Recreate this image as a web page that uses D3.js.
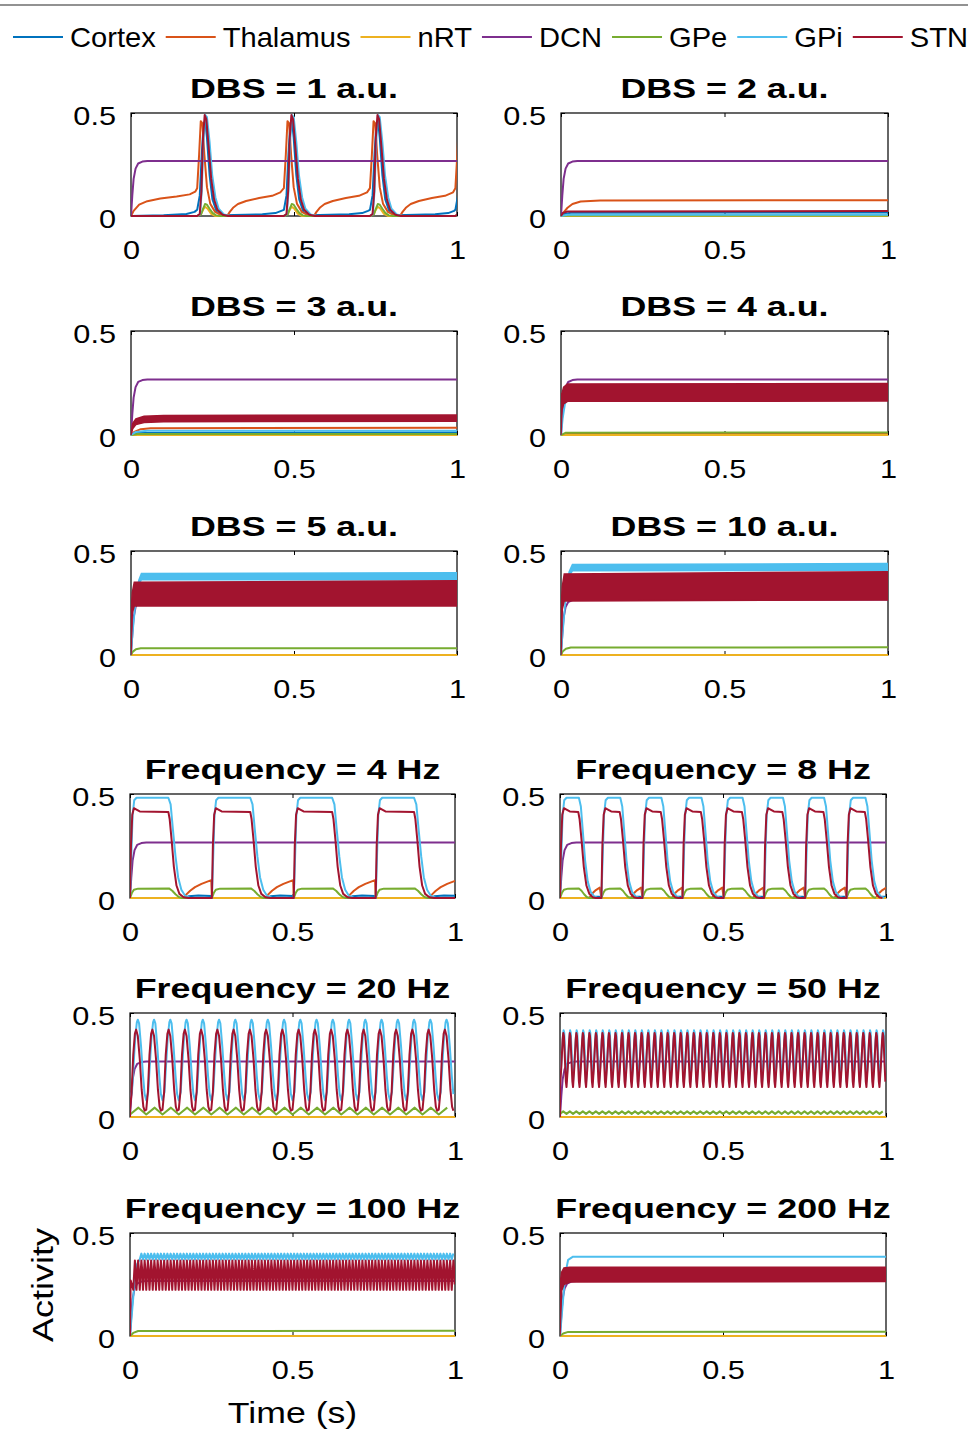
<!DOCTYPE html>
<html>
<head>
<meta charset="utf-8">
<script src="https://cdn.jsdelivr.net/npm/d3@7"></script>
<style>
  body { margin: 0; background: #fff; }
  svg text { font-family: "Liberation Sans", Arial, Helvetica, sans-serif; fill: #000; }
</style>
</head>
<body>
<svg id="fig" width="968" height="1436"></svg>
<script>
// ---- series and axes ----
const seriesNames = ["Cortex", "Thalamus", "nRT", "DCN", "GPe", "GPi", "STN"]
const seriesColors = ["#0072BD", "#D95319", "#EDB120", "#7E2F8E", "#77AC30", "#4DBEEE", "#A2142F"]
const xTicks = [0, 0.5, 1]
const xTickLabels = ["0", "0.5", "1"]
const yTicks = [0, 0.5]
const yTickLabels = ["0", "0.5"]

const panelTitles = [
  "DBS = 1 a.u.", "DBS = 2 a.u.", "DBS = 3 a.u.", "DBS = 4 a.u.",
  "DBS = 5 a.u.", "DBS = 10 a.u.", "Frequency = 4 Hz", "Frequency = 8 Hz",
  "Frequency = 20 Hz", "Frequency = 50 Hz", "Frequency = 100 Hz", "Frequency = 200 Hz"
]

// DCN rise (same in every one)
const dcnTrace = [[0, 0], [0.004, 0.1], [0.008, 0.18], [0.014, 0.23], [0.022, 0.255], [0.035, 0.264], [0.05, 0.267], [1, 0.267]]
const zeroTrace = [[0, 0], [1, 0]]

// lines: [series, lead points (t, v), repeated cycle (dt, v) or null]
// bands: [series, points (t, lo, hi)]

// DBS = 1 a.u. (bursts)
const dbs1Onsets = [0.203, 0.469, 0.733, 0.995]
const dbs1Lines = [
  ["Cortex", [[0, 0], [0.1, 0.004], [0.17, 0.01], [0.195, 0.02], [0.203, 0.03]],
    [[0, 0.03], [0.008, 0.1], [0.014, 0.3], [0.02, 0.45], [0.025, 0.46], [0.03, 0.38], [0.038, 0.2], [0.047, 0.08], [0.06, 0.02], [0.08, 0.004], [0.2, 0.008], [0.24, 0.014], [0.258, 0.025]]],
  ["Thalamus", [[0, 0], [0.008, 0.025], [0.025, 0.055], [0.05, 0.072], [0.09, 0.085], [0.14, 0.095], [0.18, 0.105], [0.197, 0.118], [0.203, 0.135]],
    [[0, 0.135], [0.006, 0.3], [0.011, 0.46], [0.016, 0.45], [0.022, 0.3], [0.03, 0.14], [0.04, 0.06], [0.055, 0.02], [0.075, 0.003], [0.092, 0], [0.1, 0.02], [0.11, 0.04], [0.125, 0.058], [0.15, 0.073], [0.19, 0.087], [0.23, 0.098], [0.255, 0.115]]],
  ["nRT", [[0, 0]], [[0, 0], [0.012, 0.01], [0.018, 0.03], [0.024, 0.045], [0.032, 0.035], [0.042, 0.012], [0.055, 0], [0.26, 0]]],
  ["DCN", dcnTrace, null],
  ["GPe", [[0, 0]], [[0, 0], [0.012, 0.008], [0.018, 0.035], [0.024, 0.058], [0.03, 0.055], [0.038, 0.035], [0.047, 0.015], [0.058, 0.003], [0.07, 0], [0.26, 0]]],
  ["GPi", [[0, 0]], [[0, 0], [0.009, 0.01], [0.014, 0.12], [0.019, 0.36], [0.025, 0.49], [0.03, 0.48], [0.038, 0.36], [0.046, 0.2], [0.056, 0.09], [0.066, 0.035], [0.082, 0.008], [0.1, 0], [0.26, 0]]],
  ["STN", [[0, 0]], [[0, 0], [0.008, 0.01], [0.013, 0.12], [0.018, 0.38], [0.023, 0.49], [0.028, 0.47], [0.035, 0.34], [0.043, 0.18], [0.052, 0.08], [0.062, 0.03], [0.078, 0.006], [0.095, 0], [0.26, 0]]]
]

// DBS = 2 a.u.
const dbs2Lines = [
  ["Cortex", [[0, 0], [0.01, 0.01], [0.03, 0.016], [1, 0.017]], null],
  ["Thalamus", [[0, 0], [0.008, 0.018], [0.02, 0.04], [0.035, 0.058], [0.06, 0.07], [0.12, 0.075], [1, 0.077]], null],
  ["nRT", zeroTrace, null],
  ["DCN", dcnTrace, null],
  ["GPe", [[0, 0], [0.02, 0.003], [1, 0.003]], null],
  ["GPi", [[0, 0], [0.02, 0.006], [1, 0.006]], null],
  ["STN", [[0, 0], [0.006, 0.015], [0.02, 0.022], [1, 0.024]], null]
]

// DBS = 3 a.u.
const dbs3Lines = [
  ["Cortex", [[0, 0], [0.02, 0.01], [1, 0.012]], null],
  ["Thalamus", [[0, 0], [0.01, 0.015], [0.03, 0.028], [0.06, 0.033], [1, 0.035]], null],
  ["nRT", zeroTrace, null],
  ["DCN", dcnTrace, null],
  ["GPe", [[0, 0], [0.02, 0.005], [1, 0.005]], null],
  ["GPi", [[0, 0], [0.015, 0.015], [0.05, 0.02], [1, 0.021]], null]
]
const dbs3Bands = [
  ["STN", [[0, 0, 0], [0.005, 0.03, 0.055], [0.015, 0.05, 0.078], [0.04, 0.06, 0.09], [0.1, 0.064, 0.094], [1, 0.066, 0.096]]]
]

// DBS = 4 a.u.
const dbs4Lines = [
  ["Cortex", [[0, 0], [1, 0.002]], null],
  ["Thalamus", [[0, 0], [0.02, 0.005], [1, 0.005]], null],
  ["nRT", zeroTrace, null],
  ["DCN", dcnTrace, null],
  ["GPe", [[0, 0], [0.015, 0.011], [1, 0.012]], null],
  ["GPi", [[0, 0], [0.005, 0.08], [0.012, 0.15], [0.02, 0.18], [0.04, 0.2], [1, 0.2]], null]
]
const dbs4Bands = [
  ["STN", [[0, 0, 0.19], [0.003, 0.12, 0.2], [0.008, 0.15, 0.23], [0.02, 0.162, 0.245], [1, 0.163, 0.247]]]
]

// DBS = 5 a.u.
const dbs5Lines = [
  ["Cortex", zeroTrace, null],
  ["Thalamus", zeroTrace, null],
  ["nRT", zeroTrace, null],
  ["DCN", dcnTrace, null],
  ["GPe", [[0, 0], [0.005, 0.015], [0.015, 0.028], [0.03, 0.032], [1, 0.033]], null]
]
const dbs5Bands = [
  ["GPi", [[0, 0, 0], [0.008, 0.15, 0.16], [0.016, 0.28, 0.29], [0.024, 0.34, 0.36], [0.032, 0.362, 0.392], [1, 0.362, 0.395]]],
  ["STN", [[0, 0, 0.2], [0.004, 0.2, 0.3], [0.01, 0.235, 0.35], [1, 0.235, 0.357]]]
]

// DBS = 10 a.u.
const dbs10Lines = [
  ["Cortex", zeroTrace, null],
  ["Thalamus", zeroTrace, null],
  ["nRT", zeroTrace, null],
  ["DCN", dcnTrace, null],
  ["GPe", [[0, 0], [0.005, 0.017], [0.015, 0.03], [0.03, 0.036], [1, 0.037]], null]
]
const dbs10Bands = [
  ["GPi", [[0, 0, 0], [0.008, 0.15, 0.16], [0.016, 0.3, 0.31], [0.025, 0.38, 0.4], [0.035, 0.405, 0.435], [1, 0.407, 0.44]]],
  ["STN", [[0, 0, 0.22], [0.004, 0.22, 0.33], [0.01, 0.26, 0.39], [1, 0.265, 0.4]]]
]

// Frequency = 4 Hz
const f4Onsets = [0, 0.252, 0.504, 0.756]
const f4Lines = [
  ["Cortex", [[0, 0]], [[0, 0], [0.165, 0], [0.18, 0.008], [0.21, 0.012], [0.25, 0.01]]],
  ["Thalamus", [[0, 0]], [[0, 0], [0.165, 0], [0.172, 0.015], [0.185, 0.035], [0.2, 0.052], [0.22, 0.068], [0.24, 0.08], [0.25, 0.085]]],
  ["nRT", zeroTrace, null],
  ["DCN", dcnTrace, null],
  ["GPe", [[0, 0]], [[0, 0], [0.006, 0.025], [0.012, 0.04], [0.025, 0.045], [0.12, 0.046], [0.13, 0.035], [0.14, 0.018], [0.15, 0.005], [0.16, 0], [0.25, 0]]],
  ["GPi", [[0, 0]], [[0, 0], [0.004, 0.2], [0.008, 0.4], [0.013, 0.47], [0.02, 0.482], [0.118, 0.482], [0.125, 0.45], [0.132, 0.33], [0.14, 0.2], [0.148, 0.1], [0.158, 0.04], [0.17, 0.01], [0.185, 0], [0.25, 0]]],
  ["STN", [[0, 0]], [[0, 0], [0.003, 0.25], [0.007, 0.4], [0.012, 0.432], [0.02, 0.425], [0.03, 0.416], [0.118, 0.414], [0.122, 0.38], [0.128, 0.28], [0.135, 0.15], [0.143, 0.06], [0.152, 0.02], [0.165, 0.004], [0.18, 0], [0.25, 0]]]
]

// Frequency = 8 Hz
const f8Onsets = [0, 0.127, 0.253, 0.376, 0.502, 0.626, 0.752, 0.879]
const f8Lines = [
  ["Cortex", [[0, 0]], [[0, 0], [0.1, 0], [0.11, 0.006], [0.12, 0.006]]],
  ["Thalamus", [[0, 0]], [[0, 0], [0.09, 0], [0.098, 0.02], [0.11, 0.038], [0.122, 0.05]]],
  ["nRT", zeroTrace, null],
  ["DCN", dcnTrace, null],
  ["GPe", [[0, 0]], [[0, 0], [0.006, 0.025], [0.012, 0.04], [0.025, 0.045], [0.058, 0.046], [0.066, 0.035], [0.074, 0.018], [0.082, 0.005], [0.09, 0]]],
  ["GPi", [[0, 0]], [[0, 0], [0.004, 0.2], [0.008, 0.4], [0.013, 0.47], [0.02, 0.482], [0.058, 0.482], [0.064, 0.44], [0.07, 0.32], [0.077, 0.18], [0.085, 0.08], [0.094, 0.03], [0.105, 0.008], [0.115, 0]]],
  ["STN", [[0, 0]], [[0, 0], [0.003, 0.25], [0.007, 0.4], [0.012, 0.432], [0.02, 0.425], [0.03, 0.416], [0.056, 0.414], [0.06, 0.38], [0.066, 0.28], [0.073, 0.15], [0.081, 0.06], [0.09, 0.02], [0.1, 0.004], [0.11, 0]]]
]

// Frequency = 20 Hz (20 cycles counted)
const f20Period = 0.05
const f20Lines = [
  ["Cortex", zeroTrace, null],
  ["Thalamus", zeroTrace, null],
  ["nRT", zeroTrace, null],
  ["DCN", dcnTrace, null],
  ["GPe", [[0, 0]], [[0, 0.012], [0.026, 0.045]]],
  ["GPi", [[0, 0]], [[0, 0.08], [0.006, 0.12], [0.011, 0.25], [0.016, 0.38], [0.021, 0.455], [0.024, 0.468], [0.028, 0.45], [0.034, 0.34], [0.04, 0.2], [0.045, 0.11]]],
  ["STN", [[0, 0]], [[0, 0.035], [0.005, 0.12], [0.01, 0.3], [0.015, 0.4], [0.019, 0.42], [0.024, 0.39], [0.03, 0.28], [0.036, 0.13], [0.041, 0.05], [0.045, 0.03]]]
]

// Frequency = 50 Hz (50 cycles counted)
const f50Period = 0.02
const f50Lines = [
  ["Cortex", zeroTrace, null],
  ["Thalamus", zeroTrace, null],
  ["nRT", zeroTrace, null],
  ["DCN", dcnTrace, null],
  ["GPe", [[0, 0]], [[0, 0.015], [0.01, 0.027]]],
  ["GPi", [[0, 0]], [[0, 0.17], [0.005, 0.28], [0.009, 0.39], [0.011, 0.417], [0.013, 0.405], [0.016, 0.3], [0.019, 0.2]]],
  ["STN", [[0, 0]], [[0, 0.144], [0.004, 0.24], [0.008, 0.37], [0.01, 0.404], [0.012, 0.39], [0.015, 0.28], [0.018, 0.17]]]
]

// Frequency = 100 Hz
const f100Period = 0.01
const f100Lines = [
  ["Cortex", zeroTrace, null],
  ["Thalamus", zeroTrace, null],
  ["nRT", zeroTrace, null],
  ["DCN", dcnTrace, null],
  ["GPe", [[0, 0], [0.01, 0.015], [0.025, 0.024], [1, 0.025]], null],
  ["GPi", [[0, 0], [0.008, 0.15], [0.015, 0.28], [0.022, 0.35], [0.03, 0.372]], [[0, 0.372], [0.005, 0.4]]],
  ["STN", [[0, 0], [0.002, 0.27]], [[0, 0.224], [0.003, 0.31], [0.005, 0.367], [0.007, 0.33], [0.009, 0.25]]]
]

// Frequency = 200 Hz
const f200Lines = [
  ["Cortex", zeroTrace, null],
  ["Thalamus", zeroTrace, null],
  ["nRT", zeroTrace, null],
  ["DCN", dcnTrace, null],
  ["GPe", [[0, 0], [0.01, 0.012], [0.025, 0.02], [1, 0.021]], null],
  ["GPi", [[0, 0], [0.008, 0.15], [0.016, 0.3], [0.025, 0.37], [0.04, 0.385], [1, 0.385]], null]
]
const f200Bands = [
  ["STN", [[0, 0, 0.25], [0.005, 0.22, 0.31], [0.012, 0.25, 0.33], [0.03, 0.262, 0.334], [1, 0.265, 0.334]]]
]

const periodOnsets = p => d3.range(0, 1, p)

// [title index, onsets, lines, bands]
const panels = [
  [0, dbs1Onsets, dbs1Lines, []],
  [1, [], dbs2Lines, []],
  [2, [], dbs3Lines, dbs3Bands],
  [3, [], dbs4Lines, dbs4Bands],
  [4, [], dbs5Lines, dbs5Bands],
  [5, [], dbs10Lines, dbs10Bands],
  [6, f4Onsets, f4Lines, []],
  [7, f8Onsets, f8Lines, []],
  [8, periodOnsets(f20Period), f20Lines, []],
  [9, periodOnsets(f50Period), f50Lines, []],
  [10, periodOnsets(f100Period), f100Lines, []],
  [11, [], f200Lines, f200Bands]
]

// ---- layout ----
const rowBoxes = [[113, 216], [331, 435], [551, 655], [794, 898], [1013, 1117], [1233, 1336]]
const colBoxesTop = [[131, 457], [561, 888]]
const colBoxesBottom = [[130, 455], [560, 886]]
const tickFont = 26, tickStretch = 1.18
const titleFont = 28, titleStretch = 1.28
const legendFont = 28, legendStretch = 1.04

const svg = d3.select("#fig")

// builds lead + repeated cycle into one point list
function tracePoints(lead, cycle, onsets) {
  const pts = lead.slice()
  if (!cycle) return pts
  const t0 = lead.length ? lead[lead.length - 1][0] : 0
  onsets.forEach((o, i) => {
    if (o < t0 - 1e-9) return
    const span = i < onsets.length - 1 ? onsets[i + 1] - o : Infinity
    cycle.forEach(([dt, v]) => { if (dt < span - 1e-9) pts.push([o + dt, v]) })
  })
  return pts
}

function stretched(sel, x, y, sx) {
  return sel.attr("x", null).attr("y", null).attr("dy", null)
    .attr("transform", `translate(${x},${y}) scale(${sx},1)`)
}

// top rule
svg.append("line").attr("x1", 0).attr("x2", 968).attr("y1", 5).attr("y2", 5)
  .attr("stroke", "#6e6e6e").attr("stroke-width", 1.5)

// legend
let lx = 13
seriesNames.forEach((name, i) => {
  svg.append("line").attr("x1", lx).attr("x2", lx + 50).attr("y1", 37).attr("y2", 37)
    .attr("stroke", seriesColors[i]).attr("stroke-width", 2)
  const t = svg.append("text").attr("font-size", legendFont).text(name)
  stretched(t, lx + 57, 47, legendStretch)
  lx += 57 + t.node().getComputedTextLength() * legendStretch + 10
})

panels.forEach(([ti, onsets, lines, bands], pi) => {
  const row = Math.floor(pi / 2), col = pi % 2
  const [x0, x1] = (row < 3 ? colBoxesTop : colBoxesBottom)[col]
  const [y0, y1] = rowBoxes[row]
  const x = d3.scaleLinear().domain([0, 1]).range([x0, x1])
  const y = d3.scaleLinear().domain([0, 0.5]).range([y1, y0])
  const g = svg.append("g").attr("class", "panel")

  // title
  const title = g.append("text").attr("font-size", titleFont).attr("font-weight", "bold")
    .attr("text-anchor", "middle").text(panelTitles[ti])
  stretched(title, (x0 + x1) / 2, y0 - 15.5, titleStretch)

  // box
  g.append("rect").attr("x", x0).attr("y", y0).attr("width", x1 - x0).attr("height", y1 - y0)
    .attr("fill", "none").attr("stroke", "#000").attr("stroke-width", 1.2)

  // axes (ticks inside, MATLAB style)
  const styleAxis = a => {
    a.select(".domain").remove()
    a.selectAll(".tick line").attr("stroke", "#000").attr("stroke-width", 1)
  }
  const bottom = g.append("g").attr("transform", `translate(0,${y1})`)
    .call(d3.axisBottom(x).tickValues(xTicks).tickSize(-4).tickFormat((d, i) => xTickLabels[i]))
  styleAxis(bottom)
  bottom.selectAll(".tick text").attr("font-size", tickFont).attr("fill", "#000")
    .attr("font-family", null).each(function () { stretched(d3.select(this), 0, 43, tickStretch) })
  const top = g.append("g").attr("transform", `translate(0,${y0})`)
    .call(d3.axisTop(x).tickValues(xTicks).tickSize(-4).tickFormat(""))
  styleAxis(top)
  const left = g.append("g").attr("transform", `translate(${x0},0)`)
    .call(d3.axisLeft(y).tickValues(yTicks).tickSize(-4).tickFormat((d, i) => yTickLabels[i]))
  styleAxis(left)
  left.selectAll(".tick text").attr("font-size", tickFont).attr("fill", "#000")
    .attr("font-family", null).each(function () { stretched(d3.select(this), -15, 11, tickStretch) })
  const right = g.append("g").attr("transform", `translate(${x1},0)`)
    .call(d3.axisRight(y).tickValues(yTicks).tickSize(-4).tickFormat(""))
  styleAxis(right)

  // traces
  const clipId = "clip" + pi
  g.append("clipPath").attr("id", clipId).append("rect")
    .attr("x", x0).attr("y", y0 - 10).attr("width", x1 - x0).attr("height", y1 - y0 + 20)
  const plot = g.append("g").attr("clip-path", `url(#${clipId})`)
  const line = d3.line().x(d => x(d[0])).y(d => y(d[1]))
  const area = d3.area().x(d => x(d[0])).y0(d => y(d[1])).y1(d => y(d[2]))

  seriesNames.forEach((name, si) => {
    bands.filter(b => b[0] === name).forEach(b => {
      plot.append("path").attr("d", area(b[1])).attr("fill", seriesColors[si])
        .attr("stroke", seriesColors[si]).attr("stroke-width", 1.5)
    })
    lines.filter(l => l[0] === name).forEach(l => {
      plot.append("path").attr("d", line(tracePoints(l[1], l[2], onsets)))
        .attr("fill", "none").attr("stroke", seriesColors[si]).attr("stroke-width", 2)
        .attr("stroke-linejoin", "round")
    })
  })
})

// axis labels
const yLab = svg.append("text").attr("font-size", 30).attr("text-anchor", "middle").text("Activity")
yLab.attr("transform", "translate(53,1285) rotate(-90) scale(1.2,1)")
const xLab = svg.append("text").attr("font-size", 29).attr("text-anchor", "middle").text("Time (s)")
stretched(xLab, 292.5, 1423, 1.23)
</script>
</body>
</html>
